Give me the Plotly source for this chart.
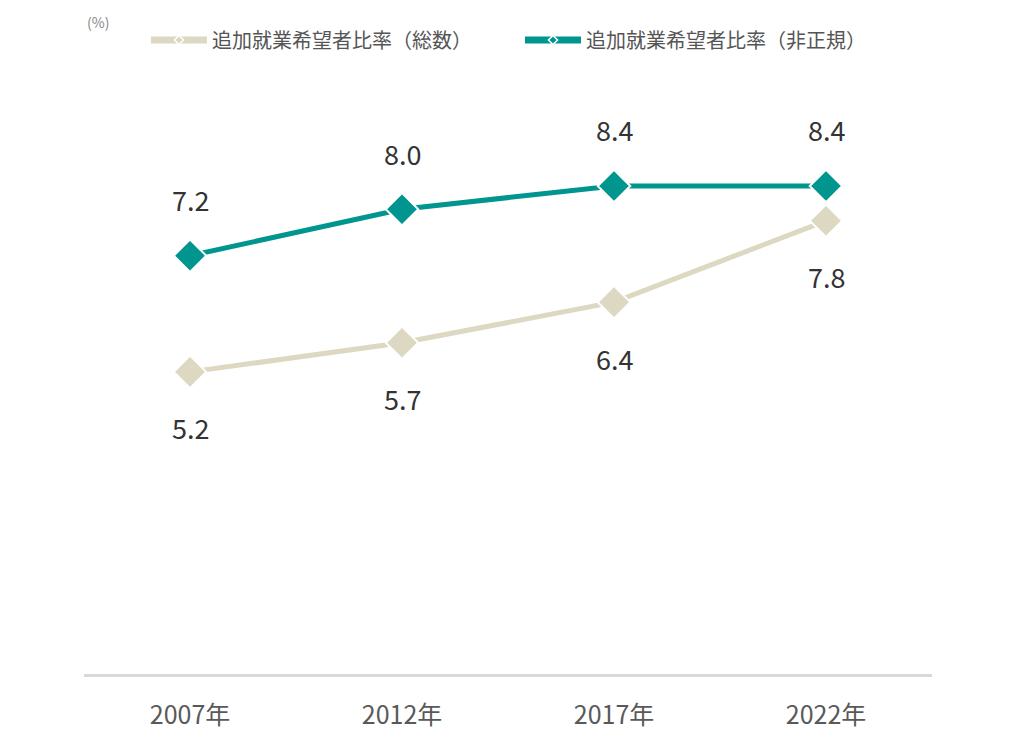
import plotly.graph_objects as go

years = ["2007年", "2012年", "2017年", "2022年"]
total = [5.2, 5.7, 6.4, 7.8]
nonregular = [7.2, 8.0, 8.4, 8.4]
name_total = "追加就業希望者比率（総数）"
name_nonreg = "追加就業希望者比率（非正規）"

c_total = "#DCD8C1"
c_nonreg = "#00968F"
font = "Noto Sans CJK JP"

fig = go.Figure()
for vals, col in ((total, c_total), (nonregular, c_nonreg)):
    fig.add_trace(go.Scatter(
        x=years, y=vals, mode="lines+markers", showlegend=False,
        line=dict(color=col, width=5),
        marker=dict(symbol="diamond", size=25, color=col, line=dict(color="white", width=2)),
    ))
for nm, col in ((name_total, c_total), (name_nonreg, c_nonreg)):
    fig.add_trace(go.Scatter(
        x=[None], y=[None], name=nm, mode="lines+markers",
        line=dict(color=col, width=7),
        marker=dict(symbol="diamond", size=7, color=col, line=dict(color="white", width=1.5)),
    ))

for xv, yv in zip(years, nonregular):
    fig.add_annotation(x=xv, y=yv, text=f"{yv:.1f}", showarrow=False, yshift=56,
                       font=dict(size=27, color="#333333", family=font))
for xv, yv in zip(years, total):
    fig.add_annotation(x=xv, y=yv, text=f"{yv:.1f}", showarrow=False, yshift=-56,
                       font=dict(size=27, color="#333333", family=font))

fig.add_annotation(xref="paper", yref="paper", x=(90 - 76) / 848, y=(666 - 14) / 581,
                   text="(%)", showarrow=False, xanchor="center", yanchor="middle",
                   font=dict(size=14, color="#888888", family=font))

fig.update_layout(
    width=1024, height=746,
    margin=dict(l=76, r=100, t=85, b=80),
    paper_bgcolor="white", plot_bgcolor="white",
    font=dict(family=font, color="#555555"),
    showlegend=True,
    legend=dict(orientation="h", x=(138 - 76) / 848, xanchor="left",
                y=(666 - 32) / 581, yanchor="middle",
                font=dict(size=20, color="#555555", family=font),
                entrywidth=303, entrywidthmode="pixels", itemwidth=56,
                bgcolor="rgba(0,0,0,0)"),
    xaxis=dict(type="category", range=[-0.5, 3.5], showgrid=False, zeroline=False,
               showline=True, linecolor="#D9D9D9", linewidth=3,
               ticks="", tickfont=dict(size=25, color="#595959", family=font),
               ticklabelstandoff=17),
    yaxis=dict(range=[0, 10], visible=False, showgrid=False, zeroline=False),
)

fig.write_html("out.html")
